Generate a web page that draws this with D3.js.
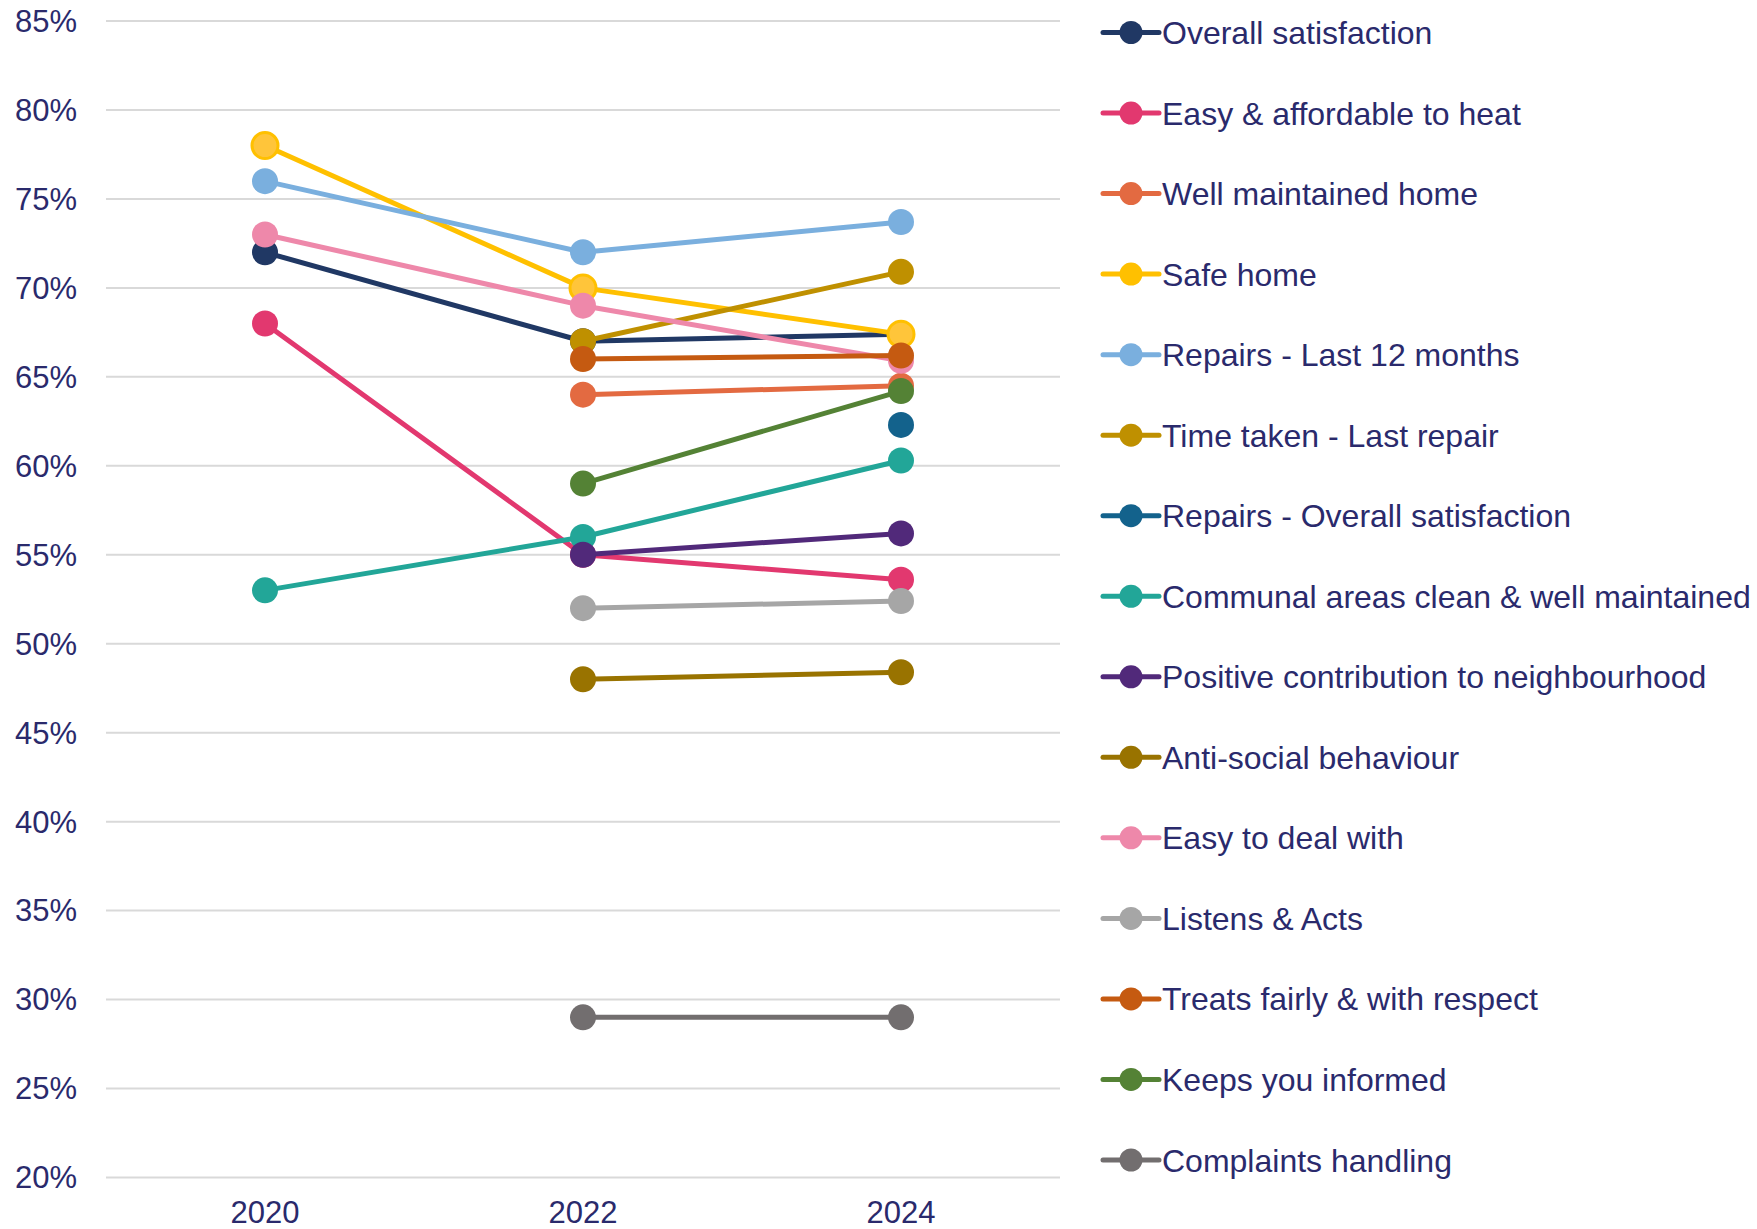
<!DOCTYPE html>
<html lang="en">
<head>
  <meta charset="UTF-8">
  <title>Satisfaction trends 2020-2024</title>
  <script src="https://d3js.org/d3.v7.min.js"></script>
  <style>
    body, html {
      margin: 0;
      padding: 0;
      background: #ffffff;
      font-family: 'Liberation Sans', Arial, sans-serif;
    }
    svg { display: block; }
    .grid line { stroke: #d9d9d9; stroke-width: 2; }
    .tick-label { fill: #2a2a6c; font-size: 31px; }
    .legend text { fill: #2a2a6c; font-size: 32px; }
  </style>
</head>
<body>
  <svg id="chart" width="1757" height="1229"></svg>

  <script>
    // Data
    const years = ["2020", "2022", "2024"];
    const yTicks = [20, 25, 30, 35, 40, 45, 50, 55, 60, 65, 70, 75, 80, 85];

    const seriesNames = [
      "Overall satisfaction",
      "Easy & affordable to heat",
      "Well maintained home",
      "Safe home",
      "Repairs - Last 12 months",
      "Time taken - Last repair",
      "Repairs - Overall satisfaction",
      "Communal areas clean & well maintained",
      "Positive contribution to neighbourhood",
      "Anti-social behaviour",
      "Easy to deal with",
      "Listens & Acts",
      "Treats fairly & with respect",
      "Keeps you informed",
      "Complaints handling"
    ];

    const overallSatisfaction = [72, 67, 67.4];
    const easyToHeat          = [68, 55, 53.6];
    const wellMaintained      = [null, 64, 64.5];
    const safeHome            = [78, 70, 67.4];
    const repairsLast12       = [76, 72, 73.7];
    const timeTaken           = [null, 67, 70.9];
    const repairsOverall      = [null, null, 62.3];
    const communalAreas       = [53, 56, 60.3];
    const positiveContrib     = [null, 55, 56.2];
    const antiSocial          = [null, 48, 48.4];
    const easyToDeal          = [73, 69, 65.9];
    const listensActs         = [null, 52, 52.4];
    const treatsFairly        = [null, 66, 66.2];
    const keepsInformed       = [null, 59, 64.2];
    const complaints          = [null, 29, 29];

    const seriesValues = [
      overallSatisfaction, easyToHeat, wellMaintained, safeHome, repairsLast12,
      timeTaken, repairsOverall, communalAreas, positiveContrib, antiSocial,
      easyToDeal, listensActs, treatsFairly, keepsInformed, complaints
    ];

    const seriesColors = [
      "#203864", "#e2386f", "#e36a41", "#ffc000", "#7aafde",
      "#bf9000", "#13628c", "#22a698", "#51297a", "#997300",
      "#ee88aa", "#a6a6a6", "#c55a11", "#548235", "#726e6f"
    ];

    const series = seriesNames.map((name, i) => ({
      name: name,
      color: seriesColors[i],
      points: years.map((yr, j) => ({ year: yr, value: seriesValues[i][j] }))
                   .filter(p => p.value !== null)
    }));

    // Layout
    const plot = { left: 106, right: 1060, top: 21, bottom: 1177.5 };

    const svg = d3.select("#chart");

    const x = d3.scalePoint().domain(years).range([plot.left, plot.right]).padding(0.5);
    const y = d3.scaleLinear().domain([20, 85]).range([plot.bottom, plot.top]);

    // Gridlines
    svg.append("g").attr("class", "grid")
      .selectAll("line")
      .data(yTicks)
      .enter().append("line")
        .attr("x1", plot.left)
        .attr("x2", plot.right)
        .attr("y1", d => y(d))
        .attr("y2", d => y(d));

    // Y axis labels
    svg.append("g")
      .selectAll("text")
      .data(yTicks)
      .enter().append("text")
        .attr("class", "tick-label")
        .attr("x", 77)
        .attr("y", d => y(d))
        .attr("dy", "0.35em")
        .attr("text-anchor", "end")
        .text(d => d + "%");

    // X axis labels
    svg.append("g")
      .selectAll("text")
      .data(years)
      .enter().append("text")
        .attr("class", "tick-label")
        .attr("x", d => x(d))
        .attr("y", 1223)
        .attr("text-anchor", "middle")
        .text(d => d);

    // Lines and markers, drawn series by series
    const line = d3.line().x(d => x(d.year)).y(d => y(d.value));

    const groups = svg.append("g")
      .selectAll("g")
      .data(series)
      .enter().append("g");

    groups.append("path")
      .attr("d", d => line(d.points))
      .attr("fill", "none")
      .attr("stroke", d => d.color)
      .attr("stroke-width", 5)
      .attr("stroke-linejoin", "round");

    groups.selectAll("circle")
      .data(d => d.points.map(p => ({ ...p, color: d.color, name: d.name })))
      .enter().append("circle")
        .attr("cx", d => x(d.year))
        .attr("cy", d => y(d.value))
        .attr("r", 13)
        .attr("fill", d => d.name === "Safe home" ? "#ffc53a" : d.color)
        .attr("stroke", d => d.color)
        .attr("stroke-width", d => d.name === "Safe home" ? 3 : 0);

    // Legend
    const legend = svg.append("g").attr("class", "legend");
    const rowY = d3.scaleLinear().domain([0, seriesNames.length - 1]).range([32.5, 1160]);

    const rows = legend.selectAll("g")
      .data(series)
      .enter().append("g")
        .attr("transform", (d, i) => `translate(0,${rowY(i)})`);

    rows.append("line")
      .attr("x1", 1103).attr("x2", 1159)
      .attr("y1", 0).attr("y2", 0)
      .attr("stroke", d => d.color)
      .attr("stroke-width", 5)
      .attr("stroke-linecap", "round");

    rows.append("circle")
      .attr("cx", 1131)
      .attr("cy", 0)
      .attr("r", 11.5)
      .attr("fill", d => d.color);

    rows.append("text")
      .attr("x", 1162)
      .attr("y", 0)
      .attr("dy", "0.36em")
      .text(d => d.name);
  </script>
</body>
</html>
